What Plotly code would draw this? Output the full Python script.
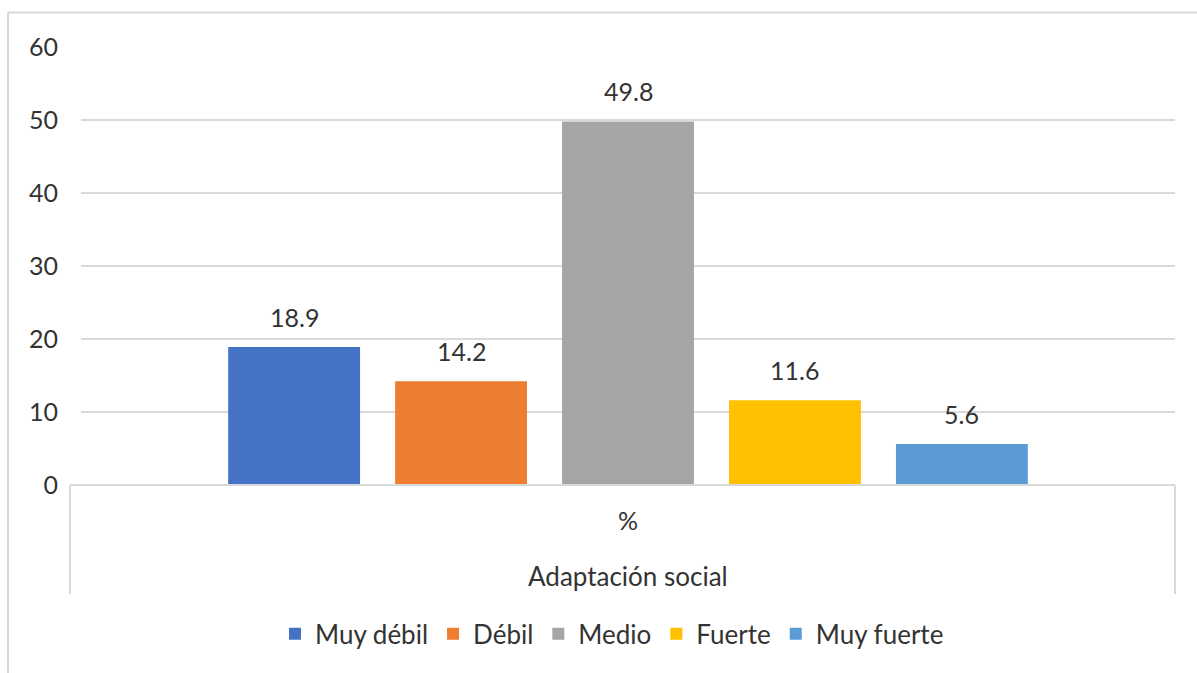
import plotly.graph_objects as go

categories = ["%"]
group_label = "Adaptación social"
series_names = ["Muy débil", "Débil", "Medio", "Fuerte", "Muy fuerte"]
series_values = [18.9, 14.2, 49.8, 11.6, 5.6]
colors = ["#4472C4", "#ED7D31", "#A5A5A5", "#FFC000", "#5B9BD5"]
y_ticks = [0, 10, 20, 30, 40, 50, 60]

FONT = "Lato"
TXT = "#333333"
FS = 25
GRID = "#D9D9D9"

W, H = 1197, 673
L, R, T, B = 81, 22, 46.5, 188
pw, ph = W - L - R, H - T - B

BARGAP, GROUPGAP = 0.237, 0.21

def px_x(p):
    return (p - L) / pw

def px_y(p):
    return (H - B - p) / ph

fig = go.Figure()
n = len(series_names)
slot = (1 - BARGAP) / n
annotations = []
for i, (name, val, col) in enumerate(zip(series_names, series_values, colors)):
    fig.add_trace(go.Bar(
        x=categories, y=[val], name=name, marker=dict(color=col, line=dict(width=0)),
    ))
    annotations.append(dict(
        x=(i - (n - 1) / 2) * slot, y=val, xref="x", yref="y", text=f"{val:.1f}",
        showarrow=False, yanchor="middle", yshift=30,
        font=dict(family=FONT, size=FS, color=TXT),
    ))

annotations.append(dict(text=group_label, xref="paper", yref="paper", x=0.5, y=px_y(576),
                        showarrow=False, font=dict(family=FONT, size=FS + 1, color=TXT),
                        xanchor="center", yanchor="middle"))

shapes = [
    # outer chart border (top and left; the rest is outside the picture)
    dict(type="line", xref="paper", yref="paper", x0=px_x(8), x1=px_x(1260), y0=px_y(12), y1=px_y(12),
         line=dict(color=GRID, width=2)),
    dict(type="line", xref="paper", yref="paper", x0=px_x(8), x1=px_x(8), y0=px_y(12), y1=px_y(720),
         line=dict(color=GRID, width=2)),
    # category box
    dict(type="line", xref="paper", yref="paper", x0=px_x(70), x1=1, y0=0, y1=0,
         line=dict(color=GRID, width=2)),
    dict(type="line", xref="paper", yref="paper", x0=px_x(70), x1=px_x(70), y0=0, y1=px_y(594),
         line=dict(color=GRID, width=2)),
    dict(type="line", xref="paper", yref="paper", x0=1, x1=1, y0=0, y1=px_y(594),
         line=dict(color=GRID, width=2)),
]

fig.update_layout(
    width=W, height=H,
    margin=dict(l=L, r=R, t=T, b=B),
    paper_bgcolor="white", plot_bgcolor="white",
    barmode="group", bargap=BARGAP, bargroupgap=GROUPGAP,
    font=dict(family=FONT, color=TXT, size=FS),
    shapes=shapes,
    annotations=annotations,
    showlegend=True,
    legend=dict(orientation="h", x=px_x(612), xanchor="center", y=px_y(634), yanchor="middle",
                font=dict(family=FONT, size=FS + 1, color=TXT), itemwidth=30, traceorder="normal"),
    xaxis=dict(showgrid=False, showline=False, ticks="", tickfont=dict(family=FONT, size=FS, color=TXT),
               ticklabelstandoff=19, range=[-0.5, 0.5]),
    yaxis=dict(range=[0, 60], tickvals=y_ticks, showgrid=True, gridcolor=GRID, gridwidth=2,
               zeroline=False, showline=False, ticks="", ticklabelstandoff=22,
               tickfont=dict(family=FONT, size=FS, color=TXT)),
)

fig.write_html("out.html", config={"displayModeBar": False})

with open("out.html", "r", encoding="utf-8") as f:
    html = f.read()
html = html.replace("<body>", '<body style="margin:0;padding:0;overflow:hidden">', 1)
html = html.replace("<head>", '<head><style>html,body{margin:0;padding:0;overflow:hidden}</style>', 1)
with open("out.html", "w", encoding="utf-8") as f:
    f.write(html)
